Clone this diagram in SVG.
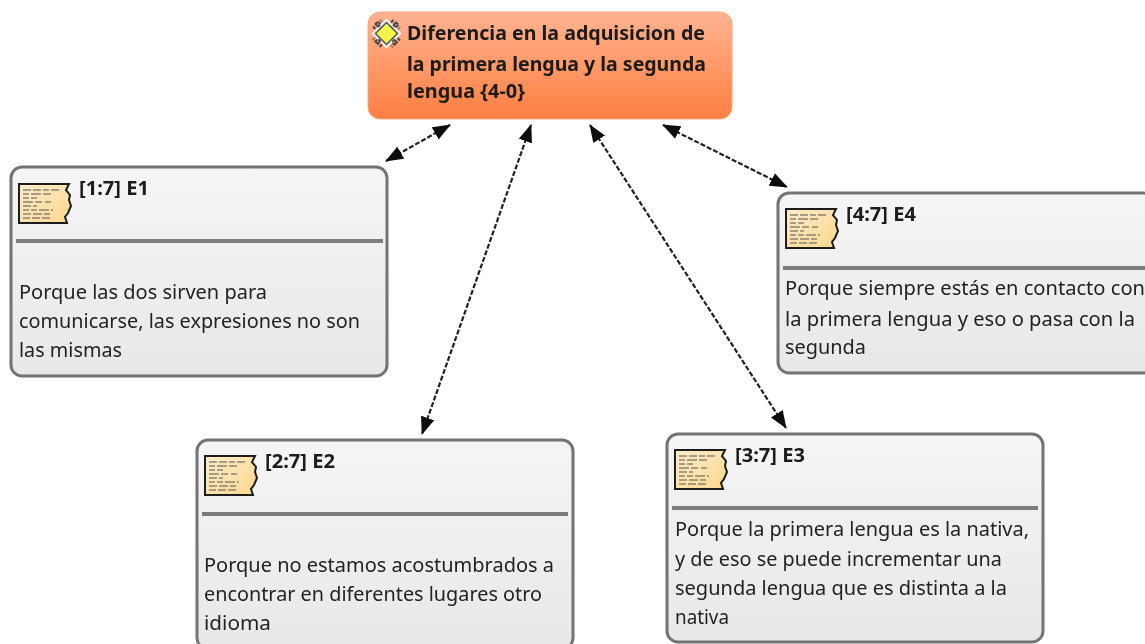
<svg xmlns="http://www.w3.org/2000/svg" width="1145" height="644" viewBox="0 0 1145 644">
<style>
.box{fill:url(#g);stroke:#737373;stroke-width:3}
.rule{stroke:#7c7c7c;stroke-width:4}
.t{font-family:"Noto Sans","DejaVu Sans",sans-serif;font-size:20px;fill:#222}
.h{font-family:"Noto Sans","DejaVu Sans",sans-serif;font-size:20px;font-weight:700;fill:#1c1c1c}
.c{stroke:#222;stroke-width:2.2;stroke-dasharray:5 2;fill:none;marker-start:url(#a);marker-end:url(#a)}
</style>
<defs>
<linearGradient id="g" x1="0" y1="0" x2="0" y2="1"><stop offset="0" stop-color="#f5f5f5"/><stop offset="1" stop-color="#e8e8e8"/></linearGradient>
<linearGradient id="o" x1="0" y1="0" x2="0" y2="1"><stop offset="0" stop-color="#feb391"/><stop offset="1" stop-color="#fe7f41"/></linearGradient>
<linearGradient id="p" x1="0" y1="0" x2="1" y2="1"><stop offset="0" stop-color="#fbeccb"/><stop offset="1" stop-color="#fdd78c"/></linearGradient>
<marker id="a" viewBox="0 0 18 14" refX="17" refY="7" markerWidth="18" markerHeight="14" markerUnits="userSpaceOnUse" orient="auto-start-reverse"><path d="M0 0L18 7L0 14z" fill="#111"/></marker>
<filter id="soft" x="-2%" y="-2%" width="104%" height="104%"><feGaussianBlur stdDeviation="0.5"/></filter>
<g id="doc">
<path d="M0 0H50L47 6L51 11L50 16L52 22L49 29L46 33L48 39L0 39z" transform="translate(1 1)" fill="url(#p)" stroke="#1a1a1a" stroke-width="2"/>
<path d="M5 7h8m2 0h8m2 0h6m2 0h8M5 11h6m2 0h10m2 0h8M5 15h6m2 0h6M5 19h10m2 0h7m3 0h6M5 23h8m2 0h4M5 27h6m2 0h6m2 0h10m2 0h2M5 31h8m2 0h9m2 0h6M5 35h7m2 0h8m2 0h8" stroke="#8d8371" stroke-width="1.5" fill="none"/>
</g>
</defs>
<rect width="1145" height="644" fill="#fff"/>
<g filter="url(#soft)">
<g id="connectors">
<path class="c" d="M450 125L386 161"/>
<path class="c" d="M531 125L422 434"/>
<path class="c" d="M590 125L786 428"/>
<path class="c" d="M663 125L787 187"/>
</g>
<g id="root">
<rect x="368" y="12" width="364" height="107" rx="12" fill="url(#o)" stroke="#fda47c" stroke-width="1"/>
<g transform="translate(386.5 33.5)">
<path d="M-13 0L0 -13L13 0L0 13z" fill="none" stroke="#eee" stroke-width="3"/>
<path d="M-11 -11l22 22M11 -11l-22 22M-13 -5l8 -8M5 -13l8 8M13 5l-8 8M-5 13l-8 -8" stroke="#4a4a4a" stroke-width="3.5" stroke-dasharray="2 1.5" fill="none"/>
<path d="M0 -11L11 0L0 11L-11 0z" fill="#f4f44a" stroke="#555" stroke-width="1.5"/>
</g>
<text class="h" x="407" y="40" textLength="298" lengthAdjust="spacingAndGlyphs">Diferencia en la adquisicion de</text>
<text class="h" x="407" y="71" textLength="299" lengthAdjust="spacingAndGlyphs">la primera lengua y la segunda</text>
<text class="h" x="407" y="98" textLength="118" lengthAdjust="spacingAndGlyphs">lengua {4-0}</text>
</g>
<g id="e1">
<rect class="box" x="11" y="167" width="376" height="209" rx="11"/>
<use href="#doc" x="18" y="183"/>
<text class="h" x="79" y="195" textLength="70" lengthAdjust="spacingAndGlyphs">[1:7] E1</text>
<path class="rule" d="M16 241H383"/>
<text class="t" x="19" y="299" textLength="248" lengthAdjust="spacingAndGlyphs">Porque las dos sirven para</text>
<text class="t" x="19" y="328" textLength="341" lengthAdjust="spacingAndGlyphs">comunicarse, las expresiones no son</text>
<text class="t" x="19" y="357" textLength="103" lengthAdjust="spacingAndGlyphs">las mismas</text>
</g>
<g id="e2">
<rect class="box" x="197" y="440" width="376" height="209" rx="11"/>
<use href="#doc" x="204" y="455"/>
<text class="h" x="265" y="468" textLength="70" lengthAdjust="spacingAndGlyphs">[2:7] E2</text>
<path class="rule" d="M202 514H568"/>
<text class="t" x="204" y="572" textLength="350" lengthAdjust="spacingAndGlyphs">Porque no estamos acostumbrados a</text>
<text class="t" x="204" y="601" textLength="338" lengthAdjust="spacingAndGlyphs">encontrar en diferentes lugares otro</text>
<text class="t" x="204" y="630" textLength="67" lengthAdjust="spacingAndGlyphs">idioma</text>
</g>
<g id="e3">
<rect class="box" x="667" y="434" width="376" height="208" rx="11"/>
<use href="#doc" x="674" y="449"/>
<text class="h" x="735" y="462" textLength="70" lengthAdjust="spacingAndGlyphs">[3:7] E3</text>
<path class="rule" d="M672 508H1038"/>
<text class="t" x="675" y="536" textLength="354" lengthAdjust="spacingAndGlyphs">Porque la primera lengua es la nativa,</text>
<text class="t" x="675" y="566" textLength="327" lengthAdjust="spacingAndGlyphs">y de eso se puede incrementar una</text>
<text class="t" x="675" y="595" textLength="332" lengthAdjust="spacingAndGlyphs">segunda lengua que es distinta a la</text>
<text class="t" x="675" y="624" textLength="54" lengthAdjust="spacingAndGlyphs">nativa</text>
</g>
<g id="e4">
<rect class="box" x="778" y="193" width="376" height="180" rx="11"/>
<use href="#doc" x="785" y="208"/>
<text class="h" x="846" y="221" textLength="70" lengthAdjust="spacingAndGlyphs">[4:7] E4</text>
<path class="rule" d="M783 268H1145"/>
<text class="t" x="785" y="295" textLength="360" lengthAdjust="spacingAndGlyphs">Porque siempre estás en contacto con</text>
<text class="t" x="785" y="326" textLength="350" lengthAdjust="spacingAndGlyphs">la primera lengua y eso o pasa con la</text>
<text class="t" x="785" y="354" textLength="81" lengthAdjust="spacingAndGlyphs">segunda</text>
</g>
</g>
</svg>
